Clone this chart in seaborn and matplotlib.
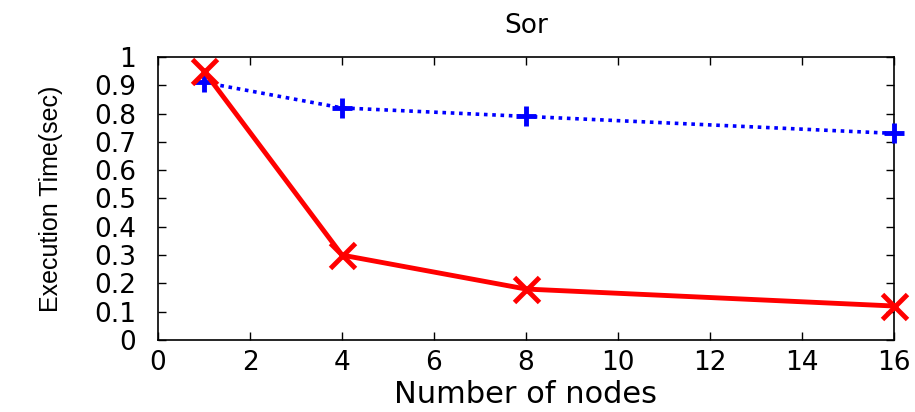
import matplotlib
matplotlib.use("Agg")
import matplotlib.pyplot as plt
import seaborn as sns
import pandas as pd

nodes = [1, 4, 8, 16]
series_blue = [0.91, 0.82, 0.79, 0.73]
series_red = [0.95, 0.30, 0.18, 0.12]
x_ticks = [0, 2, 4, 6, 8, 10, 12, 14, 16]
y_ticks = [0, 0.1, 0.2, 0.3, 0.4, 0.5, 0.6, 0.7, 0.8, 0.9, 1]

sns.set_style("ticks")
plt.rcParams['font.family'] = ['DejaVu Sans']
plt.rcParams['text.color'] = 'black'
plt.rcParams['axes.labelcolor'] = 'black'
plt.rcParams['xtick.color'] = 'black'
plt.rcParams['ytick.color'] = 'black'

fig = plt.figure(figsize=(9.15, 4.12), dpi=100)
ax = fig.add_axes([0.1727, 0.1748, 0.977 - 0.1727, 0.8617 - 0.1748])

df_b = pd.DataFrame({"nodes": nodes, "time": series_blue})
df_r = pd.DataFrame({"nodes": nodes, "time": series_red})

sns.lineplot(data=df_b, x="nodes", y="time", ax=ax, color="#0000ff",
             linestyle=(0, (1, 1.3)), linewidth=2.6, marker="+", markersize=15,
             markeredgewidth=3.5, markeredgecolor="#0000ff",
             clip_on=False, zorder=3)
sns.lineplot(data=df_r, x="nodes", y="time", ax=ax, color="#ff0000",
             linewidth=3.5, marker="x", markersize=18, markeredgewidth=3.5,
             markeredgecolor="#ff0000", clip_on=False, zorder=4)

ax.set_xlim(0, 16)
ax.set_ylim(0, 1)
ax.set_xticks(x_ticks)
ax.set_yticks(y_ticks)
ax.set_yticklabels([f"{v:g}" for v in y_ticks])
ax.tick_params(direction="in", length=6, width=1, top=True, right=True,
               labelsize=19, colors="black")
ax.tick_params(axis="x", pad=7)
ax.tick_params(axis="y", pad=16)
for s in ax.spines.values():
    s.set_linewidth(1.2)
    s.set_color("black")

ax.set_title("Sor", fontsize=19, pad=17, color="black")
ax.set_xlabel("Number of nodes", fontsize=22, labelpad=3, color="black")
ax.set_ylabel("Execution Time(sec)", fontsize=18,
              family=['Liberation Sans', 'DejaVu Sans'], labelpad=22,
              color="black")

fig.savefig("out.png", dpi=100)
